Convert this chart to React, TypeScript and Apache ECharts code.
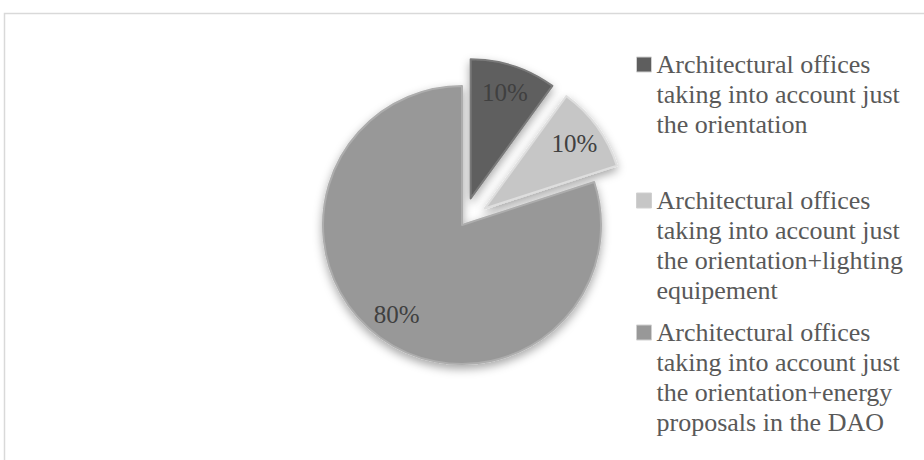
import React, { useEffect, useRef } from "react";
import * as echarts from "echarts";

const categories = [
  "Architectural offices\ntaking into account just\nthe orientation",
  "Architectural offices\ntaking into account just\nthe orientation+lighting\nequipement",
  "Architectural offices\ntaking into account just\nthe orientation+energy\nproposals in the DAO",
];
const values = [10, 10, 80];
const exploded = [true, true, false];

const colors = ["#5e5e5e", "#c6c6c6", "#989898"];
const borderColors = ["#7a7a7a", "#dedede", "#adadad"];
const legendTops = [-10.5, 95.5, 227.5];

const SERIF = '"Liberation Serif", "Times New Roman", "DejaVu Serif", serif';

export default function App() {
  const ref = useRef<HTMLDivElement>(null);

  useEffect(() => {
    if (!ref.current) return;
    const chart = echarts.init(ref.current, undefined, { renderer: "svg" });

    const center = [462, 225];
    const radius = 139;
    const offset = 28;

    const sliceStyle = (i: number) => ({
      color: colors[i],
      borderColor: borderColors[i],
      borderWidth: 2,
      shadowBlur: 10,
      shadowOffsetY: 4,
      shadowColor: "rgba(0,0,0,0.35)",
    });

    const pieData = categories.map((name, i) => ({
      name,
      value: values[i],
      selected: exploded[i],
      itemStyle: sliceStyle(i),
      select: { itemStyle: sliceStyle(i) },
    }));

    const labelData = categories.map((name, i) => ({
      name,
      value: values[i],
      selected: exploded[i],
    }));

    const legends = categories.map((name, i) => {
      const lines = name.split("\n").length;
      const lead = "\n".repeat(lines - 1);
      return {
        data: [name],
        orient: "vertical",
        left: 636,
        top: legendTops[i],
        padding: 0,
        itemWidth: 15,
        itemHeight: 15,
        itemGap: 0,
        icon: "rect",
        selectedMode: false,
        formatter: (n: string) => lead + n,
        itemStyle: {
          borderColor: "#d0d0d0",
          borderWidth: 1,
          shadowBlur: 0,
          shadowOffsetY: 0,
        },
        textStyle: {
          fontFamily: SERIF,
          fontSize: 26,
          lineHeight: 30,
          color: "#595959",
        },
      };
    });

    chart.setOption({
      animation: false,
      backgroundColor: "#ffffff",
      graphic: [
        {
          type: "rect",
          shape: { x: 4.5, y: 13.5, width: 1000, height: 1000 },
          style: { fill: "none", stroke: "#d9d9d9", lineWidth: 1.5 },
          silent: true,
        },
      ],
      legend: legends,
      series: [
        {
          type: "pie",
          center,
          radius,
          startAngle: 90,
          clockwise: true,
          selectedMode: "multiple",
          selectedOffset: offset,
          label: { show: false },
          labelLine: { show: false },
          emphasis: { disabled: true },
          data: pieData,
        },
        {
          type: "pie",
          center,
          radius: [76, 140],
          startAngle: 90,
          clockwise: true,
          selectedMode: "multiple",
          selectedOffset: offset,
          silent: true,
          itemStyle: { color: "rgba(0,0,0,0)", borderWidth: 0 },
          select: { itemStyle: { color: "rgba(0,0,0,0)", borderWidth: 0 } },
          emphasis: { disabled: true },
          labelLine: { show: false },
          label: {
            show: true,
            position: "inside",
            formatter: "{d}%",
            fontFamily: SERIF,
            fontSize: 25,
            color: "#404040",
          },
          data: labelData,
        },
      ],
    });

    return () => chart.dispose();
  }, []);

  return (
    <div
      ref={ref}
      style={{ position: "absolute", left: 0, top: 0, width: 924, height: 460 }}
    />
  );
}
